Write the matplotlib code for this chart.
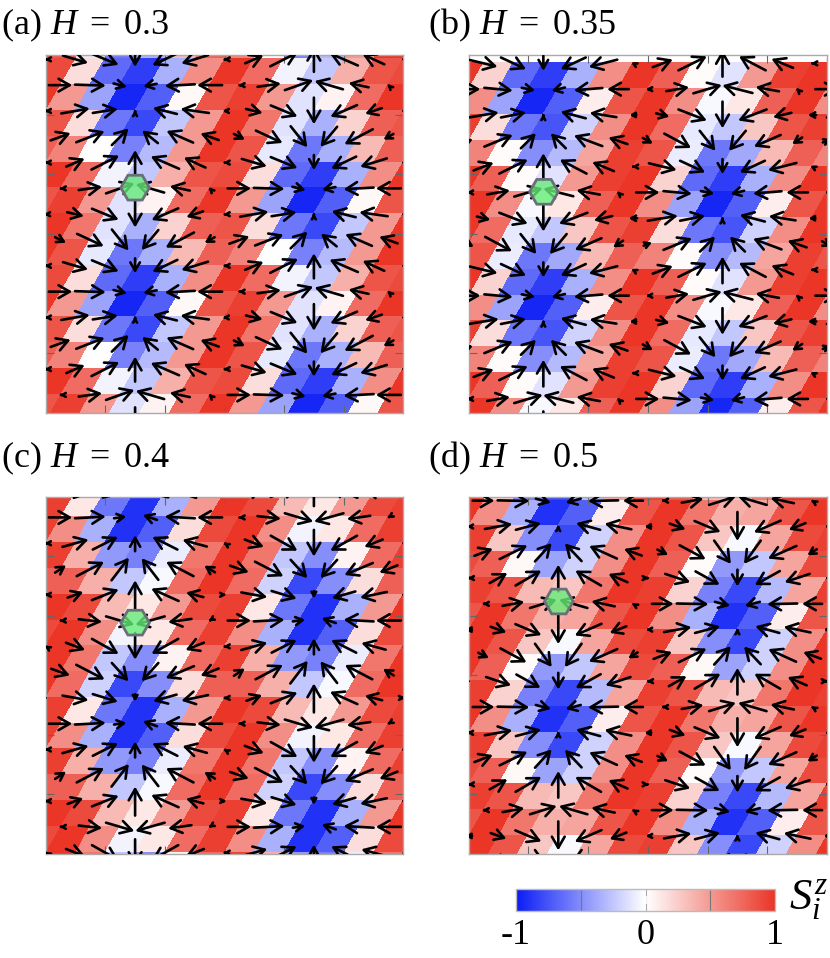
import numpy as np
import matplotlib
matplotlib.use('Agg')
import matplotlib.pyplot as plt
from matplotlib.cm import ScalarMappable
from matplotlib.colors import LinearSegmentedColormap, Normalize
from matplotlib.patches import FancyArrowPatch, RegularPolygon, Rectangle

plt.rcParams['font.family'] = ['Liberation Serif', 'DejaVu Serif']
plt.rcParams['mathtext.fontset'] = 'custom'
plt.rcParams['mathtext.rm'] = 'Liberation Serif'
plt.rcParams['mathtext.it'] = 'Liberation Serif:italic'

# S^z on the cells, 8 strips of 12 cells (the pattern repeats every 8 rows)
A_SZ = [
    [.75, -.1, -.6, -.35, .3, .7, .55, 0, -.55, -.3, .45, .9],
    [.15, -.65, -.85, -.35, .5, .9, .65, -.05, -.25, .35, .75, .8],
    [.45, -.4, -.95, -.7, .03, .75, .85, .45, -.12, .05, .65, .9],
    [.15, -.6, -.8, -.25, .45, .9, .6, -.12, -.35, .2, .7, .75],
    [.55, 0, -.55, -.3, .45, .9, .75, -.1, -.6, -.35, .3, .7],
    [.65, -.05, -.25, .35, .75, .8, .15, -.65, -.85, -.35, .5, .9],
    [.85, .45, -.12, .05, .65, .9, .45, -.4, -.95, -.7, .03, .75],
    [.6, -.12, -.35, .2, .7, .75, .15, -.6, -.8, -.25, .45, .9],
]
B_SZ = [
    [-.08, -.6, -.38, .3, .7, .55, .02, -.5, -.3, .4, .85, .75],
    [.2, -.65, -.85, -.35, .5, .9, .7, .02, -.12, .45, .85, .9],
    [-.4, -.95, -.7, .07, .75, .9, .5, -.03, .1, .7, .95, .5],
    [.15, -.6, -.75, -.2, .5, .9, .65, -.1, -.25, .25, .75, .85],
    [.02, -.5, -.3, .4, .85, .75, -.08, -.6, -.38, .3, .7, .55],
    [.7, .02, -.12, .45, .85, .9, .2, -.65, -.85, -.35, .5, .9],
    [.5, -.03, .1, .7, .95, .5, -.4, -.95, -.7, .07, .75, .9],
    [.65, -.1, -.25, .25, .75, .85, .15, -.6, -.75, -.2, .5, .9],
]
C_SZ = [
    [.65, -.2, -.8, -.5, .15, .7, .7, .35, -.25, -.03, .65, .9],
    [.1, -.6, -.9, -.35, .45, .9, .8, .3, .1, .45, .8, .85],
    [.5, -.35, -.9, -.7, .15, .8, .9, .5, -.05, .1, .65, .85],
    [.35, -.45, -.55, -.08, .6, .9, .6, -.25, -.5, .05, .65, .85],
    [.7, .35, -.25, -.03, .65, .9, .65, -.2, -.8, -.5, .15, .7],
    [.8, .3, .1, .45, .8, .85, .1, -.6, -.9, -.35, .45, .9],
    [.9, .5, -.05, .1, .65, .85, .5, -.35, -.9, -.7, .15, .8],
    [.6, -.25, -.5, .05, .65, .85, .35, -.45, -.55, -.08, .6, .9],
]
D_SZ = [
    [.2, -.55, -.8, -.3, .4, .85, .75, .3, .25, .6, .95, .85],
    [.5, -.35, -.9, -.7, .08, .75, .95, .6, .35, .4, .75, .95],
    [.25, -.5, -.8, -.2, .5, .9, .75, .25, -.03, .4, .8, .85],
    [.7, .03, -.4, -.2, .5, .9, .7, .02, -.45, -.25, .4, .8],
    [.75, .3, .25, .6, .95, .85, .2, -.55, -.8, -.3, .4, .85],
    [.95, .6, .35, .4, .75, .95, .5, -.35, -.9, -.7, .08, .75],
    [.75, .25, -.03, .4, .8, .85, .25, -.5, -.8, -.2, .5, .9],
    [.7, .02, -.45, -.25, .4, .8, .7, .03, -.4, -.2, .5, .9],
]

# in-plane spin components per site
A_SX = [
    [-.05, .75, .8, 0, -.75, -.8, -.05, .55, .83, 0, -.85, -.65],
    [.7, .92, .4, -.4, -.9, -.75, -.05, .7, .85, -.85, -.6, -.05],
    [-.05, .85, .75, 0, -.72, -.85, -.1, .5, .8, 0, -.8, -.5],
    [.6, .85, .5, -.47, -.8, -.55, .33, .8, .5, -.5, -.85, -.3],
    [-.05, .55, .83, 0, -.85, -.65, -.05, .75, .8, 0, -.75, -.8],
    [-.05, .7, .85, -.85, -.6, -.05, .7, .92, .4, -.4, -.9, -.75],
    [-.1, .5, .8, 0, -.8, -.5, -.05, .85, .75, 0, -.72, -.85],
    [.33, .8, .5, -.5, -.85, -.3, .6, .85, .5, -.47, -.8, -.55],
]
A_SY = [
    [0, -.22, -.33, -.45, -.36, -.25, 0, .24, .42, .75, .37, .3],
    [0, -.03, -.1, -.08, -.05, 0, 0, .1, .3, .25, .13, .05],
    [0, .15, .12, .05, .18, .12, 0, -.12, -.33, -.8, -.35, -.17],
    [.22, .33, .5, .38, .35, .2, -.17, -.37, -.63, -.6, -.45, -.17],
    [0, .24, .42, .75, .37, .3, 0, -.22, -.33, -.45, -.36, -.25],
    [0, .1, .3, .25, .13, .05, 0, -.03, -.1, -.08, -.05, 0],
    [0, -.12, -.33, -.8, -.35, -.17, 0, .15, .12, .05, .18, .12],
    [-.17, -.37, -.63, -.6, -.45, -.17, .22, .33, .5, .38, .35, .2],
]
B_SX = [
    [.83, .75, 0, -.75, -.85, -.1, .6, .85, 0, -.8, -.65, -.05],
    [.7, .85, .4, -.4, -.85, -.65, -.1, .68, .85, -.9, -.7, -.05],
    [.9, .75, 0, -.75, -.8, -.2, .4, .85, 0, -.85, -.55, -.25],
    [.25, .85, .45, -.45, -.85, -.57, .3, .8, .47, -.5, -.8, -.3],
    [.6, .85, 0, -.8, -.65, -.05, .83, .75, 0, -.75, -.85, -.1],
    [-.1, .68, .85, -.9, -.7, -.05, .7, .85, .4, -.4, -.85, -.65],
    [.4, .85, 0, -.85, -.55, -.25, .9, .75, 0, -.75, -.8, -.2],
    [.3, .8, .47, -.5, -.8, -.3, .25, .85, .45, -.45, -.85, -.57],
]
B_SY = [
    [-.2, -.35, -.45, -.35, -.22, .05, .23, .42, .8, .42, .27, 0],
    [0, -.08, -.08, -.1, -.07, 0, 0, .12, .25, .23, .13, .05],
    [.15, .15, .05, .2, .13, 0, -.1, -.33, -.8, -.33, -.13, 0],
    [.1, .35, .45, .45, .32, .2, -.17, -.43, -.6, -.6, -.35, -.2],
    [.23, .42, .8, .42, .27, 0, -.2, -.35, -.45, -.35, -.22, .05],
    [0, .12, .25, .23, .13, .05, 0, -.08, -.08, -.1, -.07, 0],
    [-.1, -.33, -.8, -.33, -.13, 0, .15, .15, .05, .2, .13, 0],
    [-.17, -.43, -.6, -.6, -.35, -.2, .1, .35, .45, .45, .32, .2],
]
C_SX = [
    [.1, .78, .75, 0, -.7, -.8, -.05, .47, .8, 0, -.82, -.52],
    [.7, .92, .37, -.42, -.9, -.75, -.05, .7, .85, -.88, -.7, -.05],
    [-.05, .78, .75, 0, -.75, -.73, -.05, .57, .8, 0, -.8, -.55],
    [.33, .82, .52, -.5, -.82, -.32, .56, .85, .5, -.5, -.85, -.54],
    [-.05, .47, .8, 0, -.82, -.52, .1, .78, .75, 0, -.7, -.8],
    [-.05, .7, .85, -.88, -.7, -.05, .7, .92, .37, -.42, -.9, -.75],
    [-.05, .57, .8, 0, -.8, -.55, -.05, .78, .75, 0, -.75, -.73],
    [.56, .85, .5, -.5, -.85, -.54, .33, .82, .52, -.5, -.82, -.32],
]
C_SY = [
    [0, -.14, -.23, -.22, -.2, -.17, 0, .17, .32, .87, .37, .14],
    [0, .05, .05, .15, .05, 0, 0, -.08, -.25, -.25, -.1, -.03],
    [0, .22, .38, .48, .38, .2, .03, -.22, -.45, -.8, -.45, -.22],
    [.22, .43, .68, .65, .43, .2, -.2, -.44, -.55, -.55, -.36, -.22],
    [0, .17, .32, .87, .37, .14, 0, -.14, -.23, -.22, -.2, -.17],
    [0, -.08, -.25, -.25, -.1, -.03, 0, .05, .05, .15, .05, 0],
    [.03, -.22, -.45, -.8, -.45, -.22, 0, .22, .38, .48, .38, .2],
    [-.2, -.44, -.55, -.55, -.36, -.22, .22, .43, .68, .65, .43, .2],
]
D_SX = [
    [.65, .95, .45, -.45, -.9, -.6, -.05, .65, .8, -.85, -.7, -.05],
    [-.1, .82, .75, 0, -.72, -.8, -.2, .47, .78, 0, -.8, -.5],
    [.55, .83, .5, -.5, -.83, -.53, .32, .78, .5, -.5, -.85, -.28],
    [-.05, .53, .77, 0, -.77, -.57, .05, .75, .72, 0, -.75, -.75],
    [-.05, .65, .8, -.85, -.7, -.05, .65, .95, .45, -.45, -.9, -.6],
    [-.2, .47, .78, 0, -.8, -.5, -.1, .82, .75, 0, -.72, -.8],
    [.32, .78, .5, -.5, -.85, -.28, .55, .83, .5, -.5, -.83, -.53],
    [.05, .75, .72, 0, -.75, -.75, -.05, .53, .77, 0, -.77, -.57],
]
D_SY = [
    [0, -.02, -.12, -.12, -.02, 0, 0, .12, .25, .25, .15, .03],
    [0, .15, .2, .08, .2, .17, 0, -.17, -.33, -.87, -.35, -.2],
    [.21, .41, .55, .53, .38, .2, -.16, -.42, -.7, -.7, -.38, -.18],
    [0, .3, .45, .8, .45, .25, 0, -.25, -.4, -.5, -.42, -.25],
    [0, .12, .25, .25, .15, .03, 0, -.02, -.12, -.12, -.02, 0],
    [0, -.17, -.33, -.87, -.35, -.2, 0, .15, .2, .08, .2, .17],
    [-.16, -.42, -.7, -.7, -.38, -.18, .21, .41, .55, .53, .38, .2],
    [0, -.25, -.4, -.5, -.42, -.25, 0, .3, .45, .8, .45, .25],
]

TITLES = [r'(a) $H$$\,$ = $\,$0.3', r'(b) $H$$\,$ = $\,$0.35', r'(c) $H$$\,$ = $\,$0.4', r'(d) $H$$\,$ = $\,$0.5']
CBAR_LABELS = ['-1', '0', '1']

W, H = 830.0, 958.0
ROW = np.sqrt(3) / 2  # row pitch in lattice constants
ARROW_UNIT = 1.119    # length of a unit spin in lattice constants
RED_GAIN = 1.12       # my red readings came out too pale against the reference

panels = [
    dict(sz=A_SZ, sx=A_SX, sy=A_SY, box=(45.7, 55.0, 403.3, 412.7), top=.145, even=0, odd=.5,
         strips=(0, 14), hexa=(3.0, 4.45), title=(1, 34)),
    dict(sz=B_SZ, sx=B_SX, sy=B_SY, box=(468.7, 55.0, 827.0, 412.7), top=.28, even=.5, odd=0,
         strips=(1, 14), hexa=(2.52, 4.59), title=(428, 34)),
    dict(sz=C_SZ, sx=C_SX, sy=C_SY, box=(45.7, 496.7, 403.3, 854.0), top=-.17, even=0, odd=.5,
         strips=(1, 15), hexa=(3.0, 4.23), title=(1, 467)),
    dict(sz=D_SZ, sx=D_SX, sy=D_SY, box=(468.7, 496.7, 827.0, 854.0), top=.134, even=.5, odd=0,
         strips=(0, 14), hexa=(3.02, 3.52), title=(428, 467)),
]

cmap = LinearSegmentedColormap.from_list('spin', ['#0a1cf5', '#ffffff', '#ea3527'])
norm = Normalize(-1, 1)


def add_axes(box):
    x0, y0, x1, y1 = box
    return fig.add_axes([x0 / W, 1 - y1 / H, (x1 - x0) / W, (y1 - y0) / H])


def draw_panel(ax, p):
    off = lambda k: p['even'] if k % 2 == 0 else p['odd']
    # coloured parallelograms between two rows of sites
    for s in range(p['strips'][0], p['strips'][1] + 1):
        n = np.arange(-2, 14)
        low = off(s) + n
        xs = np.vstack([low, low + .5])
        ylow = p['top'] + s * ROW
        ys = np.vstack([np.full(n.size, ylow), np.full(n.size, ylow - ROW)])
        z = np.array([[p['sz'][s % 8][i % 12] for i in n[:-1]]], dtype=float)
        z[z > 0] = np.minimum(z[z > 0] * RED_GAIN, 1)
        ax.pcolormesh(xs, ys, z, cmap=cmap, norm=norm, edgecolors='face', linewidth=.2)
    # arrows on the sites, allowed to poke just past the top and bottom of the frame
    k = 0
    while p['top'] + k * ROW < 12.7:
        y = p['top'] + k * ROW
        for n in range(-1, 14):
            x = off(k) + n
            if x < -.7 or x > 12.7:
                continue
            u = p['sx'][k % 8][n % 12]
            v = p['sy'][k % 8][n % 12]
            length = np.hypot(u, v)
            size = min(max(length / .6, .3), 1.0)
            du, dv = u * ARROW_UNIT / 2, v * ARROW_UNIT / 2
            if length == 0:
                du = .01
            arrow = FancyArrowPatch((x - du, y + dv), (x + du, y - dv),
                                    arrowstyle='->,head_length=8,head_width=4.6',
                                    mutation_scale=size, lw=1.9, color='k',
                                    shrinkA=0, shrinkB=0, zorder=3)
            arrow.set_clip_path(Rectangle((0, -.06), 12, 12.12, transform=ax.transData))
            ax.add_patch(arrow)
        k += 1
    ax.add_patch(RegularPolygon(p['hexa'], 6, radius=.48, orientation=np.pi / 6,
                                facecolor=(.40, .93, .47, .8), edgecolor='#6b7078',
                                lw=2.0, zorder=4))
    ax.set_xlim(0, 12)
    ax.set_ylim(12, 0)
    ax.set_xticks([2, 4, 6, 8, 10])
    ax.set_yticks([2, 4, 6, 8, 10])
    ax.set_xticklabels([])
    ax.set_yticklabels([])
    ax.tick_params(direction='in', length=6, width=.8, color='#666666',
                   top=True, right=True)
    for sp in ax.spines.values():
        sp.set_color('#aaaaaa')
        sp.set_linewidth(1.0)


fig = plt.figure(figsize=(W / 100, H / 100), dpi=100)
for p, title in zip(panels, TITLES):
    ax = add_axes(p['box'])
    draw_panel(ax, p)
    fig.text(p['title'][0] / W, 1 - p['title'][1] / H, title, fontsize=26,
             ha='left', va='baseline')

cax = add_axes((516, 889.3, 775, 910.7))
cb = fig.colorbar(ScalarMappable(norm=norm, cmap=cmap), cax=cax, orientation='horizontal')
cb.set_ticks([-1, 0, 1], labels=CBAR_LABELS)
cb.set_ticks([-.5, .5], minor=True)
cax.tick_params(which='major', length=0, labelsize=26, pad=6)
cax.tick_params(which='minor', direction='in', length=15, width=.8, color='#777777')
cax.vlines(0, -1, 1, color='#aaaaaa', lw=.8, transform=cax.get_xaxis_transform())
cax.vlines(0, .3, .7, color='white', lw=1.2, transform=cax.get_xaxis_transform())
cb.outline.set_edgecolor('#bbbbbb')
cb.outline.set_linewidth(1.0)
fig.text(789 / W, 1 - 910 / H, '$S_i^z$', fontsize=32, ha='left', va='baseline')

fig.savefig('out.png', dpi=100)
